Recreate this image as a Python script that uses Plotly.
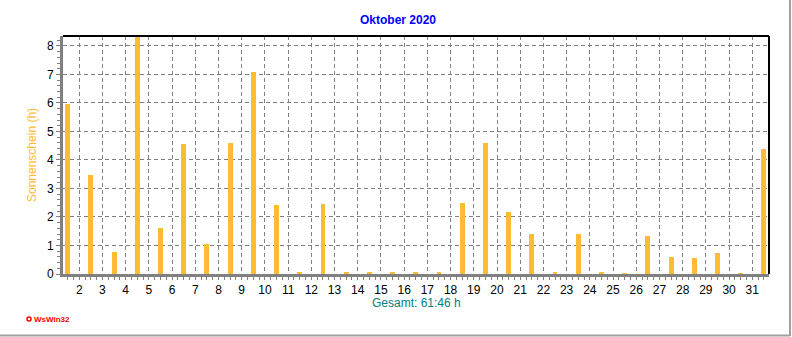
import plotly.graph_objects as go
import numpy as np

# Data
days = list(range(1, 32))
sunshine = [5.95, 3.48, 0.78, 8.4, 1.62, 4.57, 1.05, 4.6, 7.07, 2.42,
            0.04, 2.46, 0.04, 0.04, 0.04, 0.04, 0.04, 2.49, 4.6, 2.18,
            1.39, 0.08, 1.39, 0.05, 0.03, 1.32, 0.61, 0.57, 0.72, 0.03, 4.4]
tick_days = list(range(2, 32))
tick_labels = [str(d) for d in tick_days]
y_ticks = list(range(0, 9))

title_text = "Oktober 2020"
y_title = "Sonnenschein (h)"
total_text = "Gesamt: 61:46 h"
brand_text = "WsWin32"

W, H = 792, 337
ML, MR, MT, MB = 63, 23, 36, 63
PW, PH = W - ML - MR, H - MT - MB


def px(x):
    return (x - ML) / PW


def py(y):
    return (H - MB - y) / PH


bar_color = "#ffbb33"
grid_color = "#808080"
font = "Liberation Sans, Arial, sans-serif"

fig = go.Figure()
fig.add_trace(go.Bar(
    x=np.array(days) + 0.5,
    y=sunshine,
    width=0.21,
    marker=dict(color=bar_color, line=dict(width=0)),
    hoverinfo="x+y",
))

fig.update_layout(
    width=W, height=H,
    margin=dict(l=ML, r=MR, t=MT, b=MB),
    paper_bgcolor="white", plot_bgcolor="white",
    showlegend=False,
    bargap=0,
    font=dict(family=font, size=12, color="black"),
    xaxis=dict(
        range=[1.3, 31.72],
        tickmode="array", tickvals=tick_days, ticktext=tick_labels,
        showgrid=True, gridcolor=grid_color, griddash="4px,3px", gridwidth=1,
        ticks="outside", ticklen=3, tickcolor=grid_color, tickwidth=1,
        showline=True, linecolor=grid_color, linewidth=3,
        zeroline=False,
        tickfont=dict(family=font, size=12, color="black"),
        minor=dict(dtick=0.25, tick0=0, ticks="outside", ticklen=3,
                   tickcolor=grid_color, showgrid=False),
    ),
    yaxis=dict(
        range=[0, 8.35],
        tickmode="array", tickvals=y_ticks,
        showgrid=True, gridcolor=grid_color, griddash="4px,3px", gridwidth=1,
        ticks="outside", ticklen=4, tickcolor=grid_color, tickwidth=1,
        showline=True, linecolor=grid_color, linewidth=3,
        zeroline=False,
        tickfont=dict(family=font, size=12, color="black"),
        minor=dict(dtick=0.2, tick0=0, ticks="outside", ticklen=3,
                   tickcolor=grid_color, showgrid=False),
    ),
)

# top and right black borders
fig.add_shape(type="line", xref="paper", yref="paper", x0=0, x1=1, y0=1, y1=1,
              line=dict(color="black", width=2))
fig.add_shape(type="line", xref="paper", yref="paper", x0=1, x1=1, y0=0, y1=1,
              line=dict(color="black", width=2))

# outer frame lines (right, bottom)
fig.add_shape(type="line", xref="paper", yref="paper", x0=px(790), x1=px(790),
              y0=py(0), y1=py(336), line=dict(color="#a0a0a0", width=2))
fig.add_shape(type="line", xref="paper", yref="paper", x0=px(0), x1=px(790),
              y0=py(335.5), y1=py(335.5), line=dict(color="#a0a0a0", width=2))

# title
fig.add_annotation(text="<b>" + title_text + "</b>", xref="paper", yref="paper",
                   x=px(398), y=py(20), xanchor="center", yanchor="middle",
                   showarrow=False, font=dict(family=font, size=12, color="#0000ff"))
# y title
fig.add_annotation(text=y_title, xref="paper", yref="paper", textangle=-90,
                   x=px(32), y=py(155), xanchor="center", yanchor="middle",
                   showarrow=False, font=dict(family=font, size=12, color="#ffbb33"))
# total
fig.add_annotation(text=total_text, xref="paper", yref="paper",
                   x=px(416), y=py(303), xanchor="center", yanchor="middle",
                   showarrow=False, font=dict(family=font, size=12, color="#008080"))
# brand
fig.add_shape(type="circle", xref="paper", yref="paper",
              x0=px(27), x1=px(31), y0=py(321), y1=py(317),
              line=dict(color="#ff0000", width=1.5))
fig.add_annotation(text="<b>" + brand_text + "</b>", xref="paper", yref="paper",
                   x=px(32), y=py(319.5), xanchor="left", yanchor="middle",
                   showarrow=False, font=dict(family=font, size=8, color="#ff0000"))

fig.write_html("out.html")
